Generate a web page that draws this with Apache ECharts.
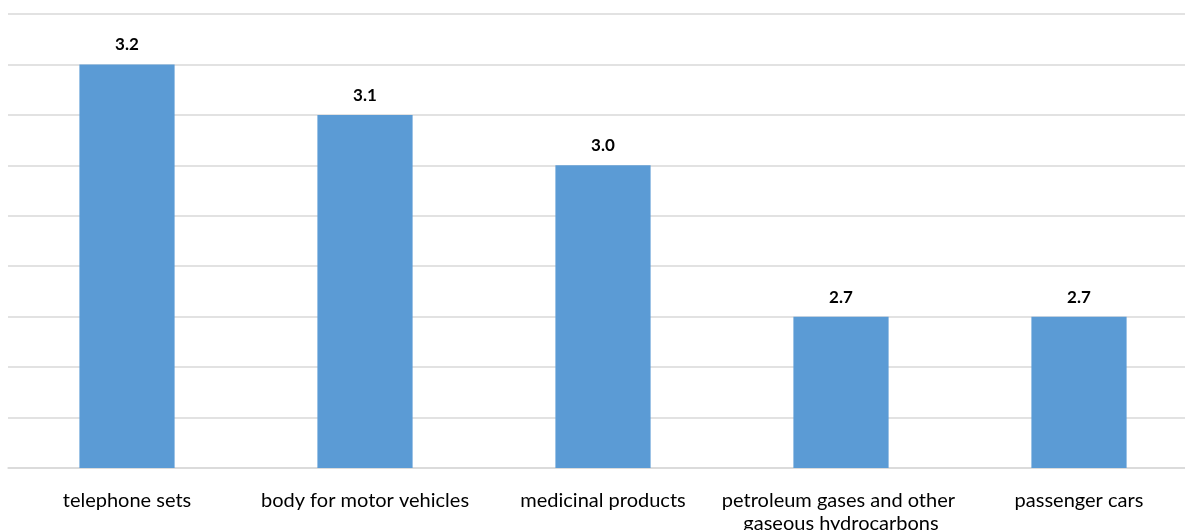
<!DOCTYPE html>
<html>
<head>
<meta charset="utf-8">
<script src="https://cdn.jsdelivr.net/npm/echarts@6/dist/echarts.min.js"></script>
<style>
    html, body { margin: 0; padding: 0; background: #fff; overflow: hidden; }
    #chart { width: 1200px; height: 530px; }
</style>
</head>
<body>
<div id="chart"></div>
<script>
var categories = ['telephone sets', 'body for motor vehicles', 'medicinal products', 'petroleum gases and other gaseous hydrocarbons', 'passenger cars'];
var values = [3.2, 3.1, 3.0, 2.7, 2.7];

var myChart = echarts.init(document.getElementById('chart'));

var option = {
    animation: false,
    textStyle: { fontFamily: 'Lato' },
    grid: {
        left: 8,
        width: 1190,
        top: 14,
        bottom: 62,
        outerBoundsMode: 'none'
    },
    xAxis: {
        type: 'category',
        data: categories,
        axisTick: { show: false },
        axisLine: { lineStyle: { color: '#d9d9d9', width: 1.5 } },
        axisLabel: {
            color: '#000',
            fontSize: 20,
            margin: 21,
            lineHeight: 23,
            width: 260,
            overflow: 'break',
            interval: 0
        }
    },
    yAxis: {
        type: 'value',
        min: 2.4,
        max: 3.3,
        interval: 0.1,
        axisLabel: { show: false },
        axisLine: { show: false },
        axisTick: { show: false },
        splitLine: { lineStyle: { color: '#d9d9d9', width: 1.5 } }
    },
    series: [{
        type: 'bar',
        data: values,
        barWidth: '40%',
        itemStyle: { color: '#5b9bd5' },
        label: {
            show: true,
            position: 'top',
            distance: 11,
            color: '#000',
            fontSize: 17,
            fontWeight: 'bold',
            formatter: function (p) { return p.value.toFixed(1); }
        }
    }]
};

myChart.setOption(option);
</script>
</body>
</html>
